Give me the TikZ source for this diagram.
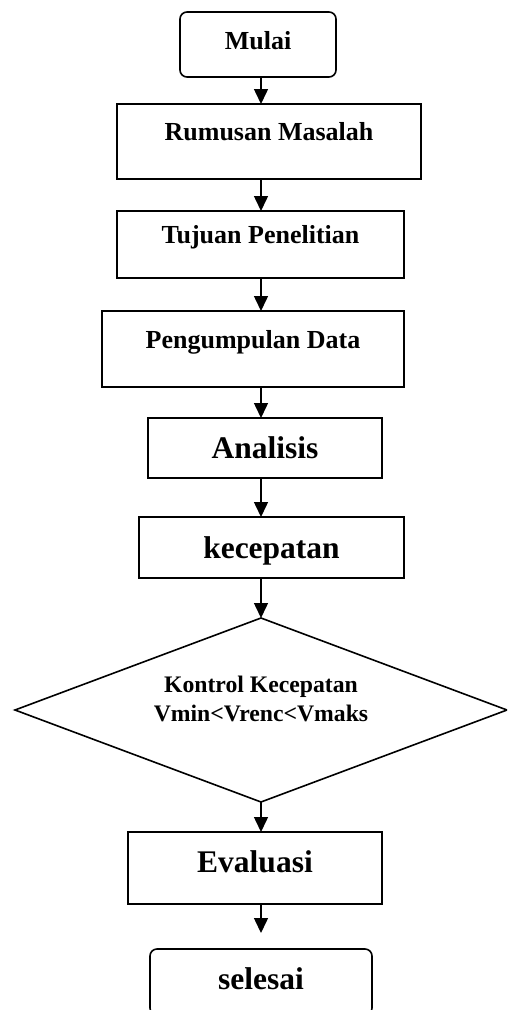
\documentclass[tikz,border=0pt]{standalone}
\usepackage{fontspec}
\setmainfont{Liberation Serif}
\usetikzlibrary{arrows.meta, positioning, shapes.geometric}

\begin{document}
\begin{tikzpicture}[
        x = 1pt, y = 1pt,
        >= {Triangle[length = 15pt, width = 14pt]},
        box/.style = {draw, rectangle, line width = 1.6pt, inner sep = 0pt, outer sep = 0pt},
        term/.style = {box, rounded corners = 7pt},
        small text/.style = {font = \bfseries\fontsize{26}{30}\selectfont, text height = 18pt, text depth = 20pt},
        big text/.style = {font = \bfseries\fontsize{31.5}{36}\selectfont, text height = 21.5pt, text depth = 0pt},
        check/.style = {draw, diamond, line width = 1.6pt, inner sep = 0pt, outer sep = 0pt,
                        minimum width = 492pt, minimum height = 184pt},
        link/.style = {->, line width = 1.5pt}
    ]

      \useasboundingbox (0,0) rectangle (507,-1010);
      \clip (0,0) rectangle (507,-1010);

      \node[term, small text, text depth = 9pt,
            minimum width = 156pt, minimum height = 65pt] (mulai) at (258,-44.5) {Mulai};

      \node[box, small text, minimum width = 304pt, minimum height = 75pt]
            (rumusan) [below = 27pt of mulai, xshift = 11pt] {Rumusan Masalah};
      \node[box, small text, minimum width = 287pt, minimum height = 67pt]
            (tujuan) [below = 32pt of rumusan, xshift = -8.5pt] {Tujuan Penelitian};
      \node[box, small text, minimum width = 302pt, minimum height = 76pt]
            (data) [below = 33pt of tujuan, xshift = -7.5pt] {Pengumpulan Data};
      \node[box, big text, minimum width = 234pt, minimum height = 60pt]
            (analisis) [below = 31pt of data, xshift = 12pt] {Analisis};
      \node[box, big text, minimum width = 265pt, minimum height = 61pt]
            (kecepatan) [below = 39pt of analisis, xshift = 6.5pt] {kecepatan};

      \node[check, label = {[font = \bfseries\fontsize{23.7}{29}\selectfont, align = center, yshift = 11pt]
                             center:{Kontrol Kecepatan\\Vmin<Vrenc<Vmaks}}]
            (kontrol) [below = 40pt of kecepatan, xshift = -10.5pt] {};

      \node[box, big text, text depth = 13pt, minimum width = 254pt, minimum height = 72pt]
            (evaluasi) [below = 30pt of kontrol, xshift = -6pt] {Evaluasi};
      \node[term, big text, text depth = 6pt, minimum width = 222pt, minimum height = 66pt]
            (selesai) [below = 45pt of evaluasi, xshift = 6pt] {selesai};

      \coordinate (axis) at (261,0);

      \path[link] (mulai.south -| axis)     edge (rumusan.north -| axis)
                  (rumusan.south -| axis)   edge (tujuan.north -| axis)
                  (tujuan.south -| axis)    edge (data.north -| axis)
                  (data.south -| axis)      edge (analisis.north -| axis)
                  (analisis.south -| axis)  edge (kecepatan.north -| axis)
                  (kecepatan.south -| axis) edge (kontrol.north -| axis)
                  (kontrol.south -| axis)   edge (evaluasi.north -| axis)
                  (evaluasi.south -| axis)  edge [shorten >= 16pt] (selesai.north -| axis);

    \end{tikzpicture}
\end{document}
